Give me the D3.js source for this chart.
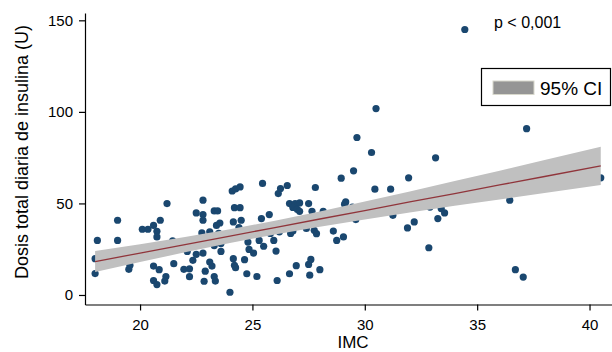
<!DOCTYPE html>
<html>
<head>
<meta charset="utf-8">
<script src="https://cdn.jsdelivr.net/npm/d3@7"></script>
<style>
  html, body { margin: 0; padding: 0; background: #fff; }
  svg { display: block; font-family: "Liberation Sans", Arial, sans-serif; }
</style>
</head>
<body>
<div id="chart"></div>
<script>
// IMC (x) and daily insulin dose (y)
const imc = [
  18.0, 18.0, 18.1, 19.0, 19.0, 19.5, 19.55, 20.1, 20.35, 20.6,
  20.75, 20.75, 20.9, 20.6, 20.85, 20.6, 20.75, 21.15, 21.1, 21.2,
  21.5, 21.45, 21.95, 22.2, 22.2, 22.1, 22.35, 22.5, 22.5, 22.8,
  22.8, 22.8, 22.75, 22.8, 22.9, 22.85, 23.1, 23.1, 23.2, 23.3,
  23.45, 23.3, 23.3, 23.35, 23.4, 23.55, 23.5, 23.6, 23.6, 24.1,
  24.25, 24.45, 24.2, 24.45, 24.15, 24.5, 24.4, 24.0, 24.15, 24.2,
  24.25, 24.65, 24.75, 24.8, 24.85, 25.05, 25.2, 25.3, 25.4, 25.45,
  25.5, 25.75, 25.8, 25.95, 26.05, 26.1, 26.2, 26.15, 26.25, 26.55,
  26.65, 26.9, 26.8, 26.7, 26.8, 26.65, 26.95, 27.0, 27.1, 27.1,
  27.4, 27.5, 27.5, 27.6, 27.55, 27.65, 27.8, 27.75, 27.85, 28.0,
  28.15, 28.6, 28.75, 28.95, 29.05, 29.1, 29.15, 29.45, 29.5, 29.65,
  29.6, 30.3, 30.5, 30.45, 31.15, 31.25, 31.95, 31.9, 32.2, 32.85,
  33.15, 33.25, 33.4, 33.55, 32.9, 34.45, 36.45, 36.7, 37.05, 37.2,
  40.5
];
const dosis = [
  11.7, 19.8, 29.8, 29.8, 40.8, 14.0, 16.2, 35.9, 35.9, 38.0,
  34.8, 31.7, 40.8, 15.8, 13.8, 7.9, 5.7, 10.1, 7.6, 49.9,
  17.1, 29.5, 14.0, 14.3, 10.0, 23.8, 18.9, 22.2, 44.8, 43.9,
  40.8, 51.8, 33.9, 22.9, 13.0, 7.5, 34.5, 18.0, 15.8, 45.9,
  45.9, 27.0, 10.1, 7.6, 38.0, 39.3, 33.6, 23.8, 28.1, 56.8,
  57.9, 59.0, 47.7, 47.7, 39.9, 40.8, 36.8, 1.5, 19.8, 16.2,
  14.9, 19.3, 11.6, 28.9, 24.9, 22.9, 10.1, 29.8, 41.7, 60.9,
  26.6, 43.9, 33.6, 29.8, 24.0, 7.9, 34.5, 55.4, 58.1, 59.8,
  49.9, 49.9, 47.8, 33.6, 34.9, 11.6, 16.0, 46.7, 45.7, 50.3,
  36.3, 49.9, 16.7, 19.4, 10.8, 45.7, 58.7, 35.3, 33.5, 13.8,
  45.7, 34.9, 29.8, 63.8, 31.7, 49.6, 50.8, 48.0, 67.8, 86.0,
  41.2, 77.8, 101.8, 57.8, 57.8, 43.5, 64.0, 36.6, 39.9, 25.8,
  74.9, 41.7, 47.2, 44.8, 48.0, 145.0, 51.8, 13.8, 9.8, 90.8,
  64.0
];

// fitted line and 95% CI
const fitX     = [18, 20, 22, 24, 26, 28, 30, 32, 34, 36, 38, 40.5];
const fitY     = [18.2, 22.9, 27.5, 32.2, 36.8, 41.5, 46.1, 50.8, 55.4, 60.1, 64.7, 70.5];
const ciLower  = [12.5, 18.0, 23.3, 28.4, 33.0, 37.3, 41.2, 45.0, 48.7, 52.2, 55.7, 60.1];
const ciUpper  = [24.0, 27.7, 31.7, 35.9, 40.6, 45.6, 51.0, 56.5, 62.2, 67.9, 73.7, 80.9];

const xTicks = [20, 25, 30, 35, 40];
const yTicks = [0, 50, 100, 150];

const width = 612, height = 352;

const svg = d3.select('#chart').append('svg')
  .attr('width', width)
  .attr('height', height);

const x = d3.scaleLinear().domain([17.55, 41]).range([85, 612]);
const y = d3.scaleLinear().domain([-5.2, 154]).range([304.5, 13]);

const points = imc.map((v, i) => ({ x: v, y: dosis[i] }));
const band = fitX.map((v, i) => ({ x: v, lo: ciLower[i], hi: ciUpper[i], fit: fitY[i] }));

// scatter first, the CI band sits on top of it
svg.append('g')
  .selectAll('circle')
  .data(points)
  .join('circle')
  .attr('cx', d => x(d.x))
  .attr('cy', d => y(d.y))
  .attr('r', 3.6)
  .attr('fill', '#1a476f');

svg.append('path')
  .datum(band)
  .attr('fill', '#c0c0c0')
  .attr('d', d3.area().x(d => x(d.x)).y0(d => y(d.lo)).y1(d => y(d.hi)));

svg.append('path')
  .datum(band)
  .attr('fill', 'none')
  .attr('stroke', '#90353b')
  .attr('stroke-width', 1.3)
  .attr('d', d3.line().x(d => x(d.x)).y(d => y(d.fit)));

// axes
const xAxis = svg.append('g')
  .attr('transform', 'translate(0,304.5)')
  .call(d3.axisBottom(x).tickValues(xTicks).tickSize(6).tickPadding(9).tickSizeOuter(0));

const yAxis = svg.append('g')
  .attr('transform', 'translate(85,0)')
  .call(d3.axisLeft(y).tickValues(yTicks).tickSize(6).tickPadding(6).tickSizeOuter(0));

[xAxis, yAxis].forEach(g => {
  g.select('.domain').attr('stroke', '#000').attr('stroke-width', 1.2);
  g.selectAll('.tick line').attr('stroke', '#000').attr('stroke-width', 1.2);
  g.selectAll('.tick text')
    .attr('fill', '#000')
    .style('font-size', '15px')
    .style('font-family', '"Liberation Sans", Arial, sans-serif');
});

svg.append('text')
  .attr('x', 353)
  .attr('y', 348)
  .attr('text-anchor', 'middle')
  .style('font-size', '17px')
  .text('IMC');

svg.append('text')
  .attr('transform', 'translate(28,152) rotate(-90)')
  .attr('text-anchor', 'middle')
  .style('font-size', '18px')
  .text('Dosis total diaria de insulina (U)');

svg.append('text')
  .attr('x', 494)
  .attr('y', 27.5)
  .style('font-size', '16px')
  .text('p < 0,001');

// legend
const legend = svg.append('g');
legend.append('rect')
  .attr('x', 481.5).attr('y', 68.5)
  .attr('width', 129).attr('height', 37)
  .attr('fill', '#fff')
  .attr('stroke', '#000')
  .attr('stroke-width', 1.2);
legend.append('rect')
  .attr('x', 493).attr('y', 81)
  .attr('width', 41).attr('height', 13.5)
  .attr('fill', '#959595')
  .attr('stroke', '#d8d8cc')
  .attr('stroke-width', 1);
legend.append('text')
  .attr('x', 540)
  .attr('y', 94.5)
  .style('font-size', '19px')
  .text('95% CI');
</script>
</body>
</html>
